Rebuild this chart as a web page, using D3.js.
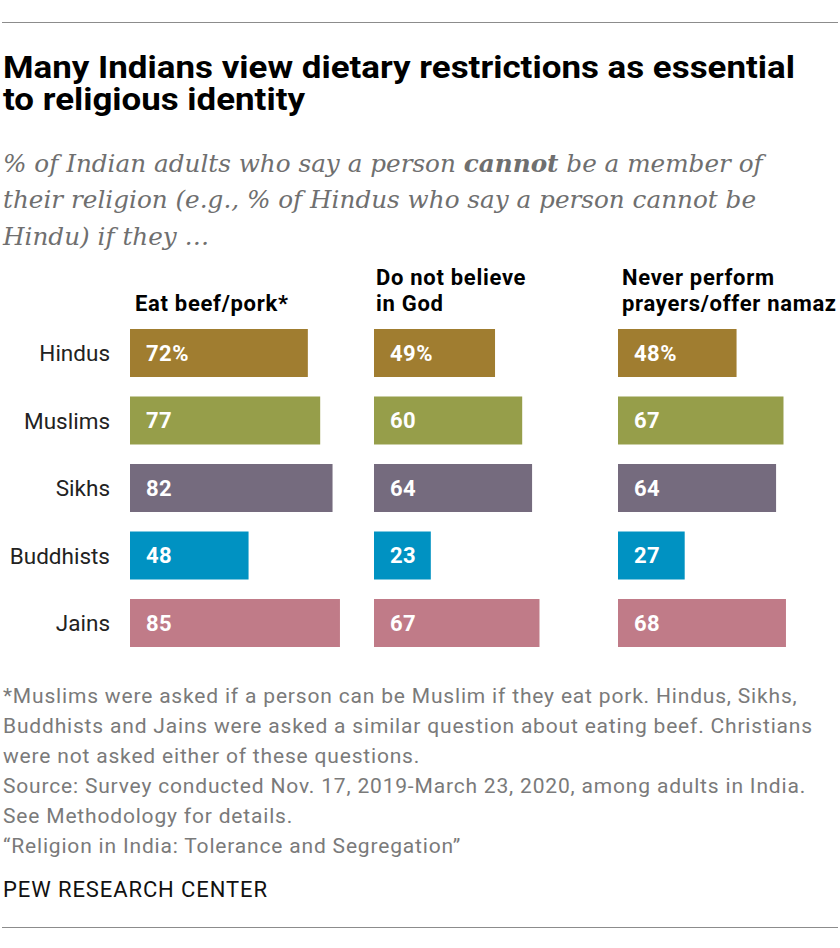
<!DOCTYPE html>
<html>
<head>
<meta charset="utf-8">
<script src="https://cdn.jsdelivr.net/npm/d3@7"></script>
<style>
  body { margin: 0; background: #fff; }
  svg { display: block; }
</style>
</head>
<body>
<div id="chart"></div>
<script>
const religions = ["Hindus", "Muslims", "Sikhs", "Buddhists", "Jains"]
const questionLines = [["Eat beef/pork*"], ["Do not believe", "in God"], ["Never perform", "prayers/offer namaz"]]
const beefPork = [72, 77, 82, 48, 85]
const believeGod = [49, 60, 64, 23, 67]
const prayers = [48, 67, 64, 27, 68]
const religionColors = ["#A07D30", "#969E4A", "#756B7E", "#0092C2", "#C07B88"]

const titleLines = ["Many Indians view dietary restrictions as essential", "to religious identity"]
const footnotes = [
    "*Muslims were asked if a person can be Muslim if they eat pork. Hindus, Sikhs,",
    "Buddhists and Jains were asked a similar question about eating beef. Christians",
    "were not asked either of these questions.",
    "Source: Survey conducted Nov. 17, 2019-March 23, 2020, among adults in India.",
    "See Methodology for details.",
    "\u201CReligion in India: Tolerance and Segregation\u201D"
]

const width = 840
const height = 948
const sans = "Roboto, 'Liberation Sans', sans-serif"

const svg = d3.select("#chart").append("svg")
    .attr("width", width)
    .attr("height", height)
    .attr("viewBox", [0, 0, width, height])

// rules top and bottom
svg.append("line").attr("x1", 2).attr("x2", 838).attr("y1", 22.5).attr("y2", 22.5)
    .attr("stroke", "#8c8c8c").attr("stroke-width", 1)
svg.append("line").attr("x1", 2).attr("x2", 838).attr("y1", 927.5).attr("y2", 927.5)
    .attr("stroke", "#8c8c8c").attr("stroke-width", 1)

// title - squeezed a bit to look like the condensed face
const titleWidths = [792, 302]
svg.append("g").selectAll("text")
    .data(titleLines)
    .join("text")
    .attr("x", 3)
    .attr("y", (d, i) => 78 + i * 32)
    .attr("font-family", sans).attr("font-weight", "bold")
    .attr("font-size", 32).attr("fill", "#000")
    .attr("textLength", (d, i) => titleWidths[i])
    .attr("lengthAdjust", "spacingAndGlyphs")
    .text(d => d)

// subtitle
const sub = svg.append("g")
    .attr("font-family", "Georgia, 'DejaVu Serif', 'Liberation Serif', serif")
    .attr("font-style", "italic").attr("font-size", 24.7).attr("fill", "#6f6f6f")
const s1 = sub.append("text").attr("x", 3).attr("y", 172)
s1.append("tspan").text("% of Indian adults who say a person ")
s1.append("tspan").attr("font-weight", "bold").text("cannot")
s1.append("tspan").text(" be a member of")
sub.append("text").attr("x", 3).attr("y", 208).text("their religion (e.g., % of Hindus who say a person cannot be")
sub.append("text").attr("x", 3).attr("y", 245).text("Hindu) if they \u2026")

// scales
const y = d3.scaleBand().domain(religions).range([329, 647]).paddingInner(0.289).paddingOuter(0)
const x = d3.scaleLinear().domain([0, 100]).range([0, 247])
const color = d3.scaleOrdinal().domain(religions).range(religionColors)
const colStep = 244
const colStart = 130

const columns = [beefPork, believeGod, prayers]

// row labels
svg.append("g").selectAll("text")
    .data(religions)
    .join("text")
    .attr("x", 110)
    .attr("y", d => y(d) + y.bandwidth() / 2)
    .attr("dy", "0.36em")
    .attr("text-anchor", "end")
    .attr("font-family", sans)
    .attr("font-size", 22.5)
    .attr("fill", "#222")
    .text(d => d)

columns.forEach((vals, ci) => {
    const g = svg.append("g").attr("transform", `translate(${colStart + ci * colStep},0)`)

    // header
    const lines = questionLines[ci]
    const head = g.append("text")
        .attr("font-family", sans)
        .attr("font-weight", "bold").attr("font-size", 22)
        .attr("letter-spacing", 0.7).attr("fill", "#000")
    lines.forEach((ln, li) => {
        head.append("tspan")
            .attr("x", ci == 0 ? 5 : ci == 1 ? 2 : 4)
            .attr("y", 311 - (lines.length - 1 - li) * 26)
            .text(ln)
    })

    const rows = religions.map((r, i) => ({religion: r, value: vals[i], first: i == 0}))

    g.selectAll("rect")
        .data(rows)
        .join("rect")
        .attr("x", 0)
        .attr("y", d => y(d.religion))
        .attr("width", d => x(d.value))
        .attr("height", y.bandwidth())
        .attr("fill", d => color(d.religion))

    g.selectAll(".val")
        .data(rows)
        .join("text")
        .attr("class", "val")
        .attr("x", 16)
        .attr("y", d => y(d.religion) + y.bandwidth() / 2)
        .attr("dy", "0.36em")
        .attr("font-family", sans)
        .attr("font-weight", "bold")
        .attr("font-size", 22)
        .attr("letter-spacing", 0.5)
        .attr("fill", "#fff")
        .text(d => d.first ? d.value + "%" : d.value)
})

// footnotes
svg.append("g").selectAll("text")
    .data(footnotes)
    .join("text")
    .attr("x", 3)
    .attr("y", (d, i) => 703 + i * 30)
    .attr("font-family", sans)
    .attr("font-size", 21)
    .attr("letter-spacing", 0.82)
    .attr("fill", "#7a7a7a")
    .text(d => d)

svg.append("text")
    .attr("x", 3).attr("y", 897)
    .attr("font-family", sans)
    .attr("font-size", 22)
    .attr("letter-spacing", 0.9)
    .attr("fill", "#111")
    .text("PEW RESEARCH CENTER")
</script>
</body>
</html>
